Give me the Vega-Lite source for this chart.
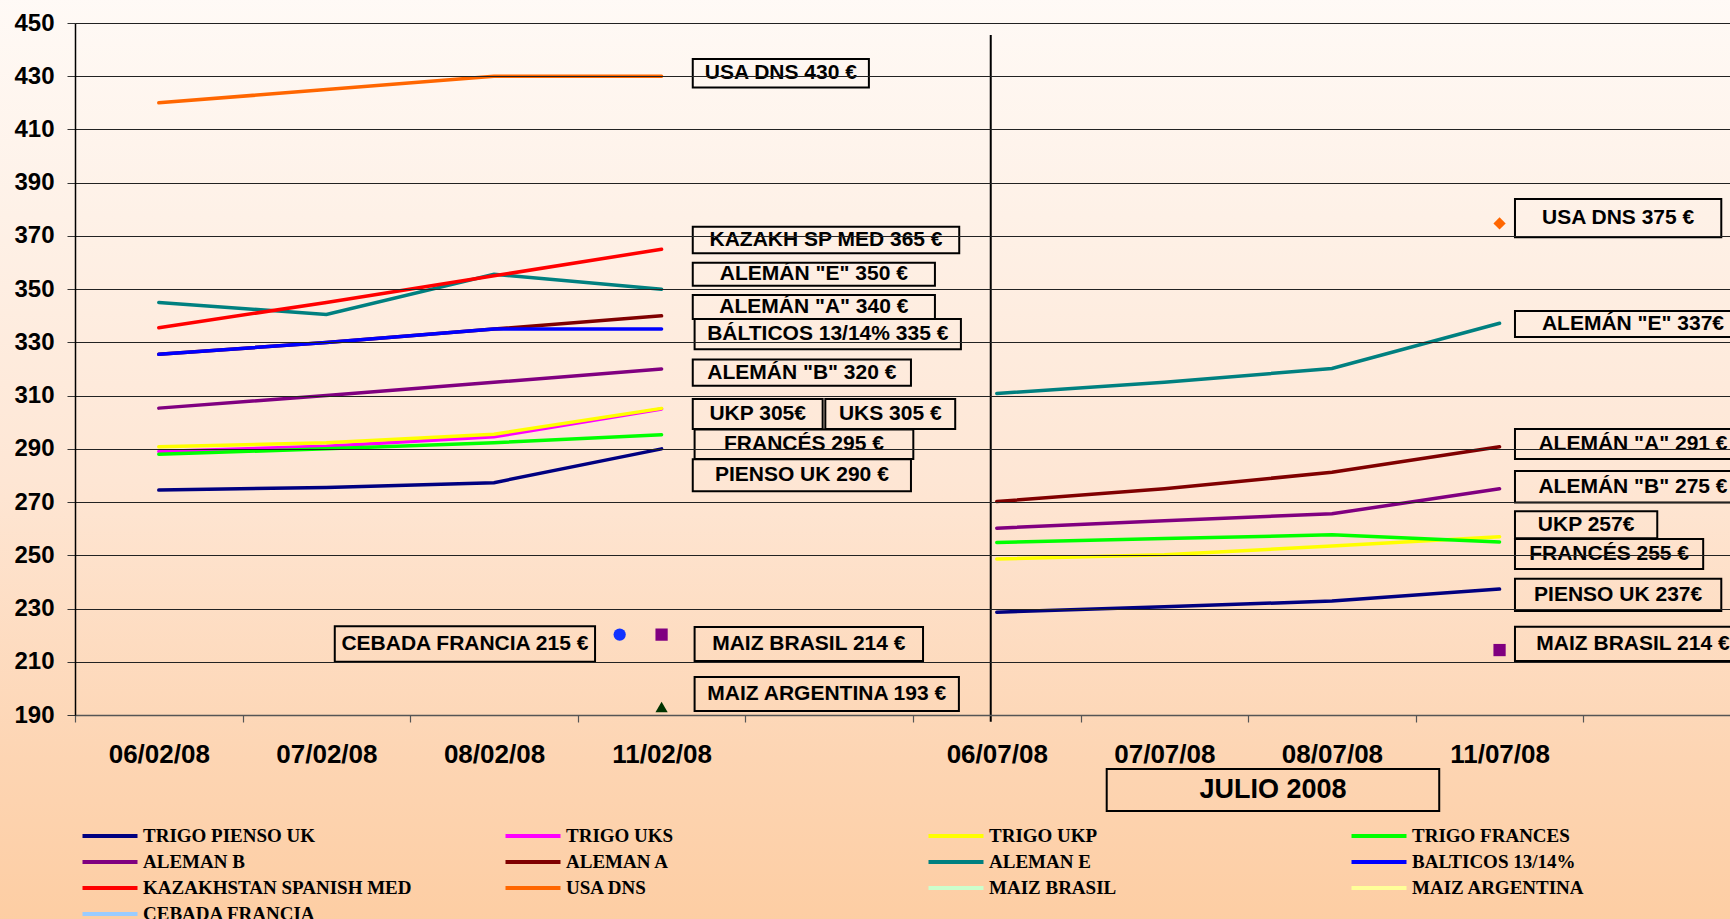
{
  "$schema": "https://vega.github.io/schema/vega-lite/v6.json",
  "width": 1655,
  "height": 692,
  "autosize": {"type": "none"},
  "padding": {"left": 75, "top": 23, "right": 0, "bottom": 204},
  "background": "#FFFAF6",
  "config": {"view": {"stroke": null}, "font": "Liberation Sans"},
  "datasets": {
    "one": [{"k": 1}],
    "prices": [
      {"serie": "TRIGO PIENSO UK", "tramo": "L", "fecha": "06/02/08", "pos": 0.5, "precio": 274.5},
      {"serie": "TRIGO PIENSO UK", "tramo": "L", "fecha": "07/02/08", "pos": 1.5, "precio": 275.5},
      {"serie": "TRIGO PIENSO UK", "tramo": "L", "fecha": "08/02/08", "pos": 2.5, "precio": 277.3},
      {"serie": "TRIGO PIENSO UK", "tramo": "L", "fecha": "11/02/08", "pos": 3.5, "precio": 290},
      {"serie": "TRIGO PIENSO UK", "tramo": "R", "fecha": "06/07/08", "pos": 5.5, "precio": 228.6},
      {"serie": "TRIGO PIENSO UK", "tramo": "R", "fecha": "07/07/08", "pos": 6.5, "precio": 230.7},
      {"serie": "TRIGO PIENSO UK", "tramo": "R", "fecha": "08/07/08", "pos": 7.5, "precio": 232.8},
      {"serie": "TRIGO PIENSO UK", "tramo": "R", "fecha": "11/07/08", "pos": 8.5, "precio": 237.3},
      {"serie": "TRIGO UKS", "tramo": "L", "fecha": "06/02/08", "pos": 0.5, "precio": 289},
      {"serie": "TRIGO UKS", "tramo": "L", "fecha": "07/02/08", "pos": 1.5, "precio": 291},
      {"serie": "TRIGO UKS", "tramo": "L", "fecha": "08/02/08", "pos": 2.5, "precio": 294.5},
      {"serie": "TRIGO UKS", "tramo": "L", "fecha": "11/02/08", "pos": 3.5, "precio": 305},
      {"serie": "TRIGO UKP", "tramo": "L", "fecha": "06/02/08", "pos": 0.5, "precio": 290.8},
      {"serie": "TRIGO UKP", "tramo": "L", "fecha": "07/02/08", "pos": 1.5, "precio": 292.3},
      {"serie": "TRIGO UKP", "tramo": "L", "fecha": "08/02/08", "pos": 2.5, "precio": 295.5},
      {"serie": "TRIGO UKP", "tramo": "L", "fecha": "11/02/08", "pos": 3.5, "precio": 305.2},
      {"serie": "TRIGO UKP", "tramo": "R", "fecha": "06/07/08", "pos": 5.5, "precio": 248.6},
      {"serie": "TRIGO UKP", "tramo": "R", "fecha": "07/07/08", "pos": 6.5, "precio": 250.2},
      {"serie": "TRIGO UKP", "tramo": "R", "fecha": "08/07/08", "pos": 7.5, "precio": 253.5},
      {"serie": "TRIGO UKP", "tramo": "R", "fecha": "11/07/08", "pos": 8.5, "precio": 257},
      {"serie": "TRIGO FRANCES", "tramo": "L", "fecha": "06/02/08", "pos": 0.5, "precio": 288},
      {"serie": "TRIGO FRANCES", "tramo": "L", "fecha": "07/02/08", "pos": 1.5, "precio": 290},
      {"serie": "TRIGO FRANCES", "tramo": "L", "fecha": "08/02/08", "pos": 2.5, "precio": 292.3},
      {"serie": "TRIGO FRANCES", "tramo": "L", "fecha": "11/02/08", "pos": 3.5, "precio": 295.3},
      {"serie": "TRIGO FRANCES", "tramo": "R", "fecha": "06/07/08", "pos": 5.5, "precio": 254.8},
      {"serie": "TRIGO FRANCES", "tramo": "R", "fecha": "07/07/08", "pos": 6.5, "precio": 256.3},
      {"serie": "TRIGO FRANCES", "tramo": "R", "fecha": "08/07/08", "pos": 7.5, "precio": 257.7},
      {"serie": "TRIGO FRANCES", "tramo": "R", "fecha": "11/07/08", "pos": 8.5, "precio": 255},
      {"serie": "ALEMAN B", "tramo": "L", "fecha": "06/02/08", "pos": 0.5, "precio": 305.3},
      {"serie": "ALEMAN B", "tramo": "L", "fecha": "07/02/08", "pos": 1.5, "precio": 310},
      {"serie": "ALEMAN B", "tramo": "L", "fecha": "08/02/08", "pos": 2.5, "precio": 315},
      {"serie": "ALEMAN B", "tramo": "L", "fecha": "11/02/08", "pos": 3.5, "precio": 320},
      {"serie": "ALEMAN B", "tramo": "R", "fecha": "06/07/08", "pos": 5.5, "precio": 260.2},
      {"serie": "ALEMAN B", "tramo": "R", "fecha": "07/07/08", "pos": 6.5, "precio": 263},
      {"serie": "ALEMAN B", "tramo": "R", "fecha": "08/07/08", "pos": 7.5, "precio": 265.6},
      {"serie": "ALEMAN B", "tramo": "R", "fecha": "11/07/08", "pos": 8.5, "precio": 275},
      {"serie": "ALEMAN A", "tramo": "L", "fecha": "06/02/08", "pos": 0.5, "precio": 325.5},
      {"serie": "ALEMAN A", "tramo": "L", "fecha": "07/02/08", "pos": 1.5, "precio": 330},
      {"serie": "ALEMAN A", "tramo": "L", "fecha": "08/02/08", "pos": 2.5, "precio": 335},
      {"serie": "ALEMAN A", "tramo": "L", "fecha": "11/02/08", "pos": 3.5, "precio": 340},
      {"serie": "ALEMAN A", "tramo": "R", "fecha": "06/07/08", "pos": 5.5, "precio": 270.2},
      {"serie": "ALEMAN A", "tramo": "R", "fecha": "07/07/08", "pos": 6.5, "precio": 275},
      {"serie": "ALEMAN A", "tramo": "R", "fecha": "08/07/08", "pos": 7.5, "precio": 281.2},
      {"serie": "ALEMAN A", "tramo": "R", "fecha": "11/07/08", "pos": 8.5, "precio": 290.8},
      {"serie": "BALTICOS 13/14%", "tramo": "L", "fecha": "06/02/08", "pos": 0.5, "precio": 325.5},
      {"serie": "BALTICOS 13/14%", "tramo": "L", "fecha": "07/02/08", "pos": 1.5, "precio": 330},
      {"serie": "BALTICOS 13/14%", "tramo": "L", "fecha": "08/02/08", "pos": 2.5, "precio": 335},
      {"serie": "BALTICOS 13/14%", "tramo": "L", "fecha": "11/02/08", "pos": 3.5, "precio": 335},
      {"serie": "ALEMAN E", "tramo": "L", "fecha": "06/02/08", "pos": 0.5, "precio": 345},
      {"serie": "ALEMAN E", "tramo": "L", "fecha": "07/02/08", "pos": 1.5, "precio": 340.5},
      {"serie": "ALEMAN E", "tramo": "L", "fecha": "08/02/08", "pos": 2.5, "precio": 355.6},
      {"serie": "ALEMAN E", "tramo": "L", "fecha": "11/02/08", "pos": 3.5, "precio": 350},
      {"serie": "ALEMAN E", "tramo": "R", "fecha": "06/07/08", "pos": 5.5, "precio": 310.8},
      {"serie": "ALEMAN E", "tramo": "R", "fecha": "07/07/08", "pos": 6.5, "precio": 315},
      {"serie": "ALEMAN E", "tramo": "R", "fecha": "08/07/08", "pos": 7.5, "precio": 320.2},
      {"serie": "ALEMAN E", "tramo": "R", "fecha": "11/07/08", "pos": 8.5, "precio": 337.2},
      {"serie": "KAZAKHSTAN SPANISH MED", "tramo": "L", "fecha": "06/02/08", "pos": 0.5, "precio": 335.5},
      {"serie": "KAZAKHSTAN SPANISH MED", "tramo": "L", "fecha": "07/02/08", "pos": 1.5, "precio": 345},
      {"serie": "KAZAKHSTAN SPANISH MED", "tramo": "L", "fecha": "08/02/08", "pos": 2.5, "precio": 355},
      {"serie": "KAZAKHSTAN SPANISH MED", "tramo": "L", "fecha": "11/02/08", "pos": 3.5, "precio": 365},
      {"serie": "USA DNS", "tramo": "L", "fecha": "06/02/08", "pos": 0.5, "precio": 420},
      {"serie": "USA DNS", "tramo": "L", "fecha": "07/02/08", "pos": 1.5, "precio": 425},
      {"serie": "USA DNS", "tramo": "L", "fecha": "08/02/08", "pos": 2.5, "precio": 430},
      {"serie": "USA DNS", "tramo": "L", "fecha": "11/02/08", "pos": 3.5, "precio": 430},
      {"serie": "USA DNS", "tramo": "R", "fecha": "11/07/08", "pos": 8.5, "precio": 374.7},
      {"serie": "MAIZ BRASIL", "tramo": "L", "fecha": "11/02/08", "pos": 3.5, "precio": 220.2},
      {"serie": "MAIZ BRASIL", "tramo": "R", "fecha": "11/07/08", "pos": 8.5, "precio": 214.4},
      {"serie": "MAIZ ARGENTINA", "tramo": "L", "fecha": "11/02/08", "pos": 3.5, "precio": 193},
      {"serie": "CEBADA FRANCIA", "tramo": "L", "fecha": "11/02/08", "pos": 3.25, "precio": 220.2}
    ],
    "notes": [
      {"t": "USA DNS 430 €", "x1": 3.686, "x2": 4.737, "y1": 436.5, "y2": 425.8},
      {"t": "KAZAKH SP MED 365 €", "x1": 3.686, "x2": 5.276, "y1": 373.4, "y2": 363.5},
      {"t": "ALEMÁN \"E\" 350 €", "x1": 3.686, "x2": 5.131, "y1": 359.9, "y2": 351.3},
      {"t": "ALEMÁN \"A\" 340 €", "x1": 3.686, "x2": 5.131, "y1": 347.8, "y2": 338.8},
      {"t": "BÁLTICOS 13/14% 335 €", "x1": 3.697, "x2": 5.286, "y1": 338.8, "y2": 327.4},
      {"t": "ALEMÁN \"B\" 320 €", "x1": 3.686, "x2": 4.988, "y1": 323.6, "y2": 313.7},
      {"t": "UKP 305€", "x1": 3.686, "x2": 4.461, "y1": 308.7, "y2": 297.5},
      {"t": "UKS 305 €", "x1": 4.477, "x2": 5.252, "y1": 308.7, "y2": 297.5},
      {"t": "FRANCÉS 295 €", "x1": 3.697, "x2": 5.002, "y1": 297.3, "y2": 286.2},
      {"t": "PIENSO UK 290 €", "x1": 3.686, "x2": 4.988, "y1": 286.1, "y2": 274.1},
      {"t": "CEBADA FRANCIA 215 €", "x1": 1.55, "x2": 3.103, "y1": 223.3, "y2": 210.0},
      {"t": "MAIZ BRASIL 214 €", "x1": 3.697, "x2": 5.06, "y1": 223.1, "y2": 210.3},
      {"t": "MAIZ ARGENTINA 193 €", "x1": 3.697, "x2": 5.274, "y1": 204.3, "y2": 191.5},
      {"t": "USA DNS 375 €", "x1": 8.592, "x2": 9.823, "y1": 383.9, "y2": 369.5},
      {"t": "ALEMÁN \"E\" 337€", "x1": 8.592, "x2": 10.0, "y1": 341.8, "y2": 332.0},
      {"t": "ALEMÁN \"A\" 291 €", "x1": 8.592, "x2": 10.0, "y1": 297.5, "y2": 286.2},
      {"t": "ALEMÁN \"B\" 275 €", "x1": 8.592, "x2": 10.0, "y1": 281.7, "y2": 269.8},
      {"t": "UKP 257€", "x1": 8.592, "x2": 9.441, "y1": 266.6, "y2": 256.4},
      {"t": "FRANCÉS 255 €", "x1": 8.592, "x2": 9.715, "y1": 256.1, "y2": 244.9},
      {"t": "PIENSO UK 237€", "x1": 8.592, "x2": 9.823, "y1": 241.2, "y2": 229.1},
      {"t": "MAIZ BRASIL 214 €", "x1": 8.592, "x2": 10.0, "y1": 223.2, "y2": 210.3}
    ]
  },
  "layer": [
    {
      "data": {"name": "one"},
      "mark": {
        "type": "rect",
        "fill": {
          "gradient": "linear", "x1": 0, "y1": 0, "x2": 0, "y2": 1,
          "stops": [
            {"offset": 0, "color": "#FFFBF8"},
            {"offset": 0.25, "color": "#FEF1E7"},
            {"offset": 0.52, "color": "#FEE6D4"},
            {"offset": 0.8, "color": "#FDD5B3"},
            {"offset": 1, "color": "#FDCCA0"}
          ]
        }
      },
      "encoding": {
        "x": {"datum": -1, "type": "quantitative", "scale": {"domain": [0, 9.875], "nice": false, "zero": false}},
        "x2": {"datum": 11},
        "y": {"datum": 470, "type": "quantitative", "scale": {"domain": [190, 450], "nice": false, "zero": false}},
        "y2": {"datum": 100}
      }
    },
    {
      "data": {"name": "prices"},
      "transform": [
        {"filter": "indexof(['MAIZ BRASIL','MAIZ ARGENTINA','CEBADA FRANCIA'], datum.serie) < 0 && !(datum.serie == 'USA DNS' && datum.tramo == 'R')"}
      ],
      "mark": {"type": "line", "strokeWidth": 3.5, "strokeCap": "round"},
      "encoding": {
        "x": {
          "field": "pos", "type": "quantitative",
          "scale": {"domain": [0, 9.875], "nice": false, "zero": false},
          "axis": {
            "title": null, "grid": false, "zindex": 1,
            "values": [0, 0.5, 1, 1.5, 2, 2.5, 3, 3.5, 4, 4.5, 5, 5.5, 6, 6.5, 7, 7.5, 8, 8.5, 9, 9.5],
            "labelExpr": "datum.value === 0.5 ? '06/02/08' : datum.value === 1.5 ? '07/02/08' : datum.value === 2.5 ? '08/02/08' : datum.value === 3.5 ? '11/02/08' : datum.value === 5.5 ? '06/07/08' : datum.value === 6.5 ? '07/07/08' : datum.value === 7.5 ? '08/07/08' : datum.value === 8.5 ? '11/07/08' : ''",
            "tickOpacity": {"condition": {"test": "datum.value % 1 === 0", "value": 1}, "value": 0},
            "tickSize": 7, "tickColor": "#555555", "tickWidth": 1.2,
            "domainColor": "#555555", "domainWidth": 1.5,
            "labelFont": "Liberation Sans", "labelFontSize": 26, "labelFontWeight": "bold", "labelColor": "#000000",
            "labelPadding": 19, "labelOverlap": false, "labelFlush": false, "labelBound": false
          }
        },
        "y": {
          "field": "precio", "type": "quantitative",
          "scale": {"domain": [190, 450], "nice": false, "zero": false},
          "axis": {
            "title": null, "zindex": 1,
            "values": [190, 210, 230, 250, 270, 290, 310, 330, 350, 370, 390, 410, 430, 450],
            "grid": true, "gridColor": "#222222", "gridWidth": 1,
            "domainColor": "#000000", "domainWidth": 1.5,
            "tickSize": 8, "tickColor": "#333333",
            "labelFont": "Liberation Sans", "labelFontSize": 24, "labelFontWeight": "bold", "labelColor": "#000000",
            "labelPadding": 13, "labelOverlap": false
          }
        },
        "color": {
          "field": "serie", "type": "nominal",
          "scale": {
            "domain": ["TRIGO PIENSO UK", "TRIGO UKS", "TRIGO UKP", "TRIGO FRANCES", "ALEMAN B", "ALEMAN A", "ALEMAN E", "BALTICOS 13/14%", "KAZAKHSTAN SPANISH MED", "USA DNS", "MAIZ BRASIL", "MAIZ ARGENTINA", "CEBADA FRANCIA"],
            "range": ["#000080", "#FF00FF", "#FFFF00", "#00FF00", "#800080", "#800000", "#008080", "#0000FF", "#FF0000", "#FF6600", "#CCFFCC", "#FFFF99", "#99CCFF"]
          },
          "legend": {
            "title": null, "orient": "none", "legendX": 23, "legendY": 801, "zindex": 1,
            "direction": "horizontal", "columns": 4, "gridAlign": "all", "columnPadding": 85, "rowPadding": 4,
            "symbolType": "M-2.75,0H2.75", "symbolSize": 400, "symbolStrokeWidth": 4, "symbolOpacity": 1,
            "labelFont": "Liberation Serif", "labelFontSize": 19, "labelFontWeight": "bold", "labelColor": "#000000",
            "labelLimit": 500, "labelOffset": 21
          }
        },
        "detail": {"field": "tramo", "type": "nominal"},
        "order": {"field": "pos", "type": "quantitative"}
      }
    },
    {
      "data": {"name": "prices"},
      "transform": [
        {"filter": "indexof(['MAIZ BRASIL','MAIZ ARGENTINA','CEBADA FRANCIA'], datum.serie) >= 0 || (datum.serie == 'USA DNS' && datum.tramo == 'R')"}
      ],
      "mark": {"type": "point", "filled": true, "opacity": 1, "size": 150},
      "encoding": {
        "x": {"field": "pos", "type": "quantitative", "scale": {"domain": [0, 9.875], "nice": false, "zero": false}},
        "y": {"field": "precio", "type": "quantitative", "scale": {"domain": [190, 450], "nice": false, "zero": false}},
        "shape": {
          "field": "serie", "type": "nominal",
          "scale": {"domain": ["USA DNS", "MAIZ BRASIL", "MAIZ ARGENTINA", "CEBADA FRANCIA"], "range": ["diamond", "square", "triangle-up", "circle"]},
          "legend": null
        },
        "fill": {
          "field": "serie", "type": "nominal",
          "scale": {"domain": ["USA DNS", "MAIZ BRASIL", "MAIZ ARGENTINA", "CEBADA FRANCIA"], "range": ["#FF6600", "#800080", "#003300", "#1133FF"]},
          "legend": null
        }
      }
    },
    {
      "data": {"name": "one"},
      "mark": {"type": "rule", "color": "#000000", "strokeWidth": 2},
      "encoding": {
        "x": {"datum": 5.464, "type": "quantitative", "scale": {"domain": [0, 9.875], "nice": false, "zero": false}},
        "y": {"datum": 445.5, "type": "quantitative", "scale": {"domain": [190, 450], "nice": false, "zero": false}},
        "y2": {"datum": 187.5}
      }
    },
    {
      "data": {"name": "notes"},
      "mark": {"type": "rect", "filled": false, "stroke": "#000000", "strokeWidth": 2},
      "encoding": {
        "x": {"field": "x1", "type": "quantitative", "scale": {"domain": [0, 9.875], "nice": false, "zero": false}},
        "x2": {"field": "x2"},
        "y": {"field": "y1", "type": "quantitative", "scale": {"domain": [190, 450], "nice": false, "zero": false}},
        "y2": {"field": "y2"}
      }
    },
    {
      "data": {"name": "notes"},
      "transform": [
        {"calculate": "(datum.x1 + datum.x2) / 2", "as": "xc"},
        {"calculate": "(datum.y1 + datum.y2) / 2", "as": "yc"}
      ],
      "mark": {"type": "text", "font": "Liberation Sans", "fontSize": 21, "fontWeight": "bold", "color": "#000000", "align": "center", "baseline": "middle"},
      "encoding": {
        "x": {"field": "xc", "type": "quantitative", "scale": {"domain": [0, 9.875], "nice": false, "zero": false}},
        "y": {"field": "yc", "type": "quantitative", "scale": {"domain": [190, 450], "nice": false, "zero": false}},
        "text": {"field": "t", "type": "nominal"}
      }
    },
    {
      "data": {"name": "one"},
      "mark": {"type": "rect", "filled": false, "stroke": "#000000", "strokeWidth": 2},
      "encoding": {
        "x": {"datum": 6.156, "type": "quantitative", "scale": {"domain": [0, 9.875], "nice": false, "zero": false}},
        "x2": {"datum": 8.14},
        "y": {"datum": 169.7, "type": "quantitative", "scale": {"domain": [190, 450], "nice": false, "zero": false}},
        "y2": {"datum": 153.9}
      }
    },
    {
      "data": {"name": "one"},
      "mark": {"type": "text", "text": "JULIO 2008", "font": "Liberation Sans", "fontSize": 27, "fontWeight": "bold", "color": "#000000", "align": "center", "baseline": "middle"},
      "encoding": {
        "x": {"datum": 7.148, "type": "quantitative", "scale": {"domain": [0, 9.875], "nice": false, "zero": false}},
        "y": {"datum": 161.8, "type": "quantitative", "scale": {"domain": [190, 450], "nice": false, "zero": false}}
      }
    }
  ]
}
